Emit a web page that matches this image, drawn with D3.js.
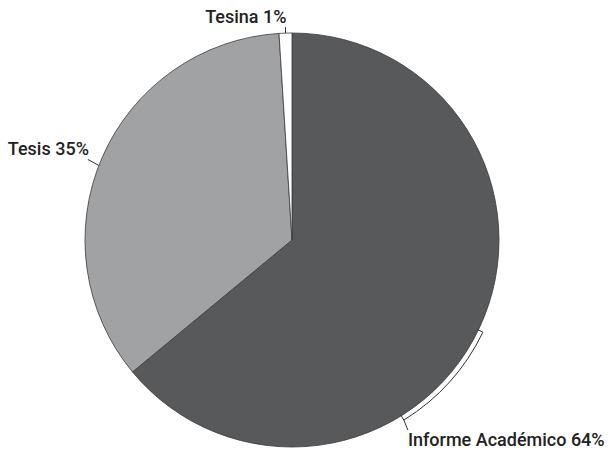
<!DOCTYPE html>
<html><head><meta charset="utf-8">
<script src="https://cdn.jsdelivr.net/npm/d3@7"></script>
<style>body{margin:0;background:#fff}svg{display:block}</style>
</head><body>
<svg id="c" width="612" height="449"></svg>
<script>
const categories = ["Informe Académico", "Tesis", "Tesina"];
const values = [64, 35, 1];
const colors = ["#58595b", "#a1a2a4", "#ffffff"];
const labels = ["Informe Académico 64%", "Tesis 35%", "Tesina 1%"];

const W = 612, H = 449, cx = 292, cy = 240, R = 207;
const svg = d3.select("#c");
const g = svg.append("g").attr("transform", `translate(${cx},${cy})`);
const pie = d3.pie().sort(null).value(d => d);
const arcs = pie(values);
const arc = d3.arc().innerRadius(0).outerRadius(R);

g.selectAll("path.s").data(arcs).enter().append("path")
  .attr("class", "s")
  .attr("d", arc)
  .attr("fill", (d, i) => colors[i])
  .attr("stroke", "#3a3a3a")
  .attr("stroke-width", 0.8)
  .attr("stroke-linejoin", "round");

const pt = (a, r) => [r * Math.sin(a), -r * Math.cos(a)];
const font = "Roboto, 'Noto Sans', sans-serif";
const lineCol = "#333";
const fs = 18, fw = 500, tc = "#222";

// Tesina label (vertical leader)
{
  const d = arcs[2];
  const a = (d.startAngle + d.endAngle) / 2;
  const p0 = pt(a, R), p1 = [p0[0], p0[1] - 6];
  g.append("line").attr("x1", p0[0]).attr("y1", p0[1]).attr("x2", p1[0]).attr("y2", p1[1])
    .attr("stroke", lineCol).attr("stroke-width", 1);
  g.append("text").attr("x", p1[0] + 1).attr("y", p1[1] - 4).attr("text-anchor", "end")
    .attr("font-family", font).attr("font-size", fs).attr("font-weight", fw).attr("fill", tc)
    .text(labels[2]);
}
// Tesis label
{
  const d = arcs[1];
  const a = (d.startAngle + d.endAngle) / 2 - 0.04;
  const p0 = pt(a, R), p1 = [p0[0] - 11, p0[1] - 6];
  g.append("line").attr("x1", p0[0]).attr("y1", p0[1]).attr("x2", p1[0]).attr("y2", p1[1])
    .attr("stroke", lineCol).attr("stroke-width", 1);
  g.append("text").attr("x", p1[0] + 1).attr("y", p1[1] - 4).attr("text-anchor", "end")
    .attr("font-family", font).attr("font-size", fs).attr("font-weight", fw).attr("fill", tc)
    .text(labels[1]);
}
// Informe label with bracket along arc
{
  const d = arcs[0];
  const mid = (d.startAngle + d.endAngle) / 2;
  const a0 = mid + 0.01, a1 = mid + 0.575;
  const rb = R + 5;
  const s0 = pt(a0, R - 1), s1 = pt(a0, rb);
  const e1 = pt(a1, rb), e0 = pt(a1, R - 1);
  const path = d3.path();
  path.moveTo(s0[0], s0[1]);
  path.lineTo(s1[0], s1[1]);
  path.arc(0, 0, rb, a0 - Math.PI / 2, a1 - Math.PI / 2, false);
  path.lineTo(e0[0], e0[1]);
  g.append("path").attr("d", path.toString()).attr("fill", "none")
    .attr("stroke", lineCol).attr("stroke-width", 1);
  const l1 = [e1[0] + 4, e1[1] + 10];
  g.append("line").attr("x1", e1[0]).attr("y1", e1[1]).attr("x2", l1[0]).attr("y2", l1[1])
    .attr("stroke", lineCol).attr("stroke-width", 1);
  g.append("text").attr("x", l1[0]).attr("y", l1[1] + 16).attr("text-anchor", "start")
    .attr("font-family", font).attr("font-size", fs).attr("font-weight", fw).attr("fill", tc)
    .text(labels[0]);
}
</script>
</body></html>
